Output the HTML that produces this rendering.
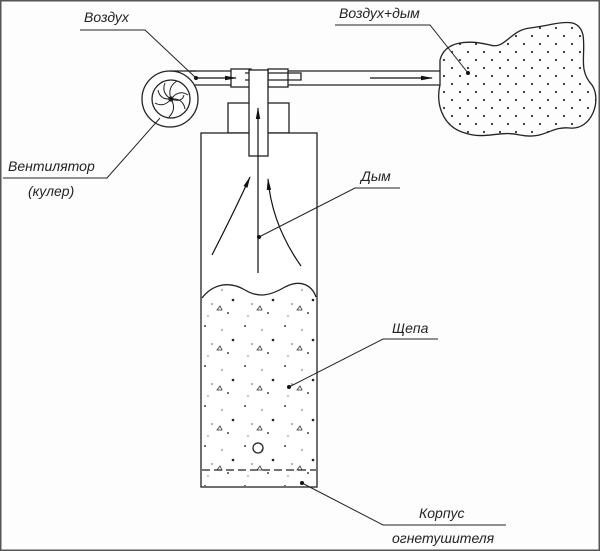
<!DOCTYPE html>
<html><head><meta charset="utf-8"><style>
html,body{margin:0;padding:0;background:#fff}
svg{display:block}
text{font-family:"Liberation Sans","DejaVu Sans",sans-serif;font-style:italic;font-size:14px;fill:#222}
</style></head><body>
<svg width="600" height="551" viewBox="0 0 600 551" xmlns="http://www.w3.org/2000/svg">
<defs>
<marker id="ar" markerWidth="12" markerHeight="6" refX="11" refY="3" orient="auto" markerUnits="userSpaceOnUse">
<path d="M0,0.8 L12,3 L0,5.2 Z" fill="#111"/></marker>
<pattern id="dots" width="16" height="16" patternUnits="userSpaceOnUse">
<circle cx="4" cy="4" r="1.1" fill="#333"/><circle cx="12" cy="12" r="1.1" fill="#333"/></pattern>
<pattern id="chip" width="40" height="40" patternUnits="userSpaceOnUse">
<circle cx="5" cy="6" r="1" fill="#444"/><circle cx="22" cy="10" r="0.8" fill="#666"/><circle cx="33" cy="20" r="1.3" fill="#222"/>
<circle cx="12" cy="24" r="0.8" fill="#555"/><circle cx="28" cy="33" r="1" fill="#444"/><circle cx="8" cy="36" r="0.7" fill="#777"/>
<path d="M17,30 l3,-4 l2,4z" fill="none" stroke="#333" stroke-width="0.8"/></pattern>
</defs>
<rect x="0.5" y="0.5" width="599" height="550" fill="#fdfdfd" stroke="#555" stroke-width="2"/>
<g stroke="#222" stroke-width="1.3" fill="none">
<line x1="190" y1="71" x2="440" y2="71"/>
<line x1="194" y1="85" x2="440" y2="85"/>
<rect x="231" y="69" width="20" height="18" fill="#fff"/>
<rect x="268" y="69" width="20" height="18" fill="#fff"/>
<path d="M245,73 L301,73 L301,80 L245,80"/>
<circle cx="170" cy="99" r="28" fill="#fff"/>
<path d="M170,71 L196,71"/>
<circle cx="171" cy="99" r="19"/>
<g stroke-width="1">
<path d="M171,99 q-4,-12 6,-18"/><path d="M171,99 q8,-10 17,-4"/><path d="M171,99 q12,-1 14,10"/>
<path d="M171,99 q6,10 -2,18"/><path d="M171,99 q-7,9 -16,4"/><path d="M171,99 q-11,1 -13,-9"/>
<path d="M171,99 q-10,-6 -6,-16"/><path d="M171,99 q11,4 13,-4"/>
</g>
<circle cx="171" cy="99" r="2" fill="#111"/>
<rect x="228" y="103" width="61" height="30" fill="#fff"/>
<rect x="201" y="133" width="116" height="354" fill="#fff"/>
<rect x="249" y="70" width="19" height="86" fill="#fff"/>
<path d="M202,298 C212,285 228,280 245,290 C258,298 270,296 285,287 C300,279 312,285 316,297 L316,486 L202,486 Z" fill="url(#chip)" stroke="none"/>
<path d="M202,298 C212,285 228,280 245,290 C258,298 270,296 285,287 C300,279 312,285 316,297"/>
<line x1="202" y1="470" x2="316" y2="470" stroke-dasharray="8,4"/>
<circle cx="258" cy="448" r="5"/>
<path d="M440,60 C445,40 470,40 490,45 C505,50 510,30 530,28 C560,24 578,15 583,35 C586,55 578,70 592,85 C602,100 592,130 570,128 C550,126 545,140 520,135 C500,130 485,140 465,133 C440,126 436,100 440,85 Z" fill="url(#dots)"/>
</g>
<g stroke="#111" stroke-width="1.2" fill="none" marker-end="url(#ar)">
<line x1="197" y1="78" x2="236" y2="78"/>
<line x1="370" y1="78" x2="432" y2="78"/>
<line x1="258" y1="273" x2="258" y2="108"/>
<path d="M212,255 Q235,210 250,177"/>
<path d="M301,266 Q272,225 268,179"/>
</g>
<g stroke="#222" stroke-width="1" fill="none">
<polyline points="80,30 145,30 196,78"/>
<polyline points="335,25 430,25 468,73"/>
<polyline points="3,178 107,178 160,118"/>
<polyline points="400,188 355,188 259,237"/>
<polyline points="438,339 383,339 289,387"/>
<polyline points="506,525 383,525 302,483"/>
</g>
<g fill="#111">
<circle cx="196" cy="78" r="2"/><circle cx="468" cy="73" r="2"/><circle cx="259" cy="237" r="2"/>
<circle cx="289" cy="387" r="2"/><circle cx="302" cy="483" r="2"/>
</g>
<text x="84" y="22">Воздух</text>
<text x="339" y="18">Воздух+дым</text>
<text x="8" y="171">Вентилятор</text>
<text x="28" y="196">(кулер)</text>
<text x="361" y="181">Дым</text>
<text x="392" y="333">Щепа</text>
<text x="419" y="518">Корпус</text>
<text x="392" y="543">огнетушителя</text>
</svg>
</body></html>
